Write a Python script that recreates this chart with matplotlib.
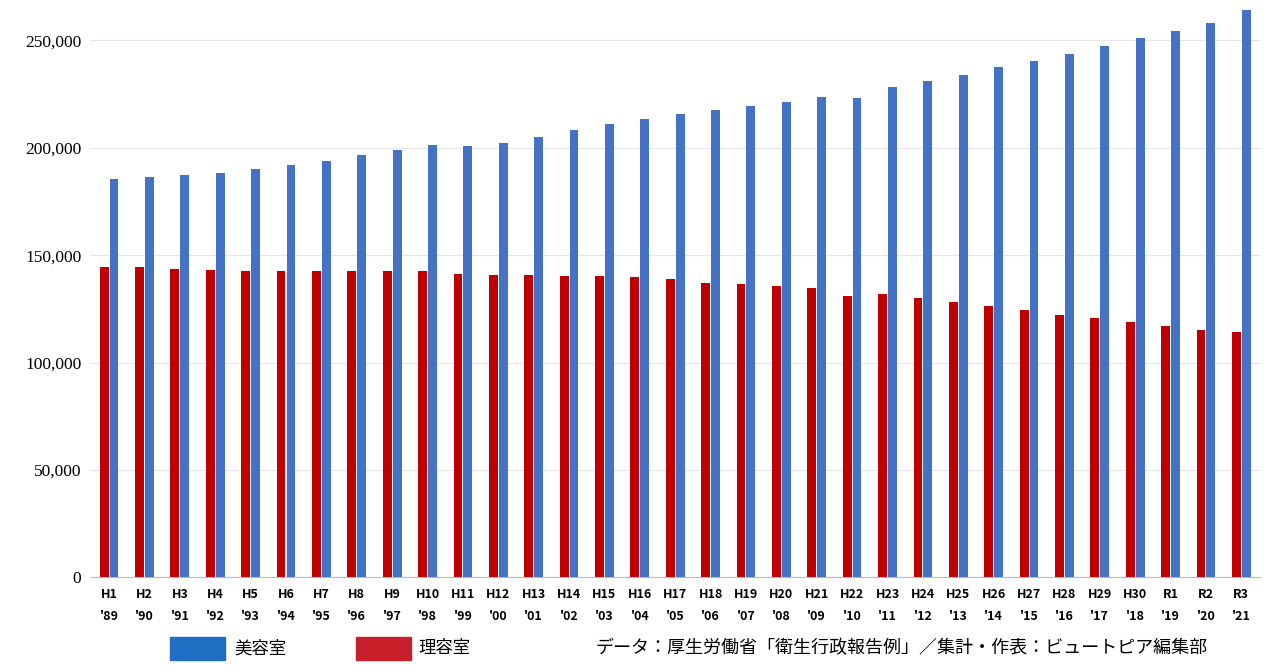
import matplotlib
matplotlib.use("Agg")
import matplotlib.pyplot as plt
import numpy as np
from matplotlib.patches import Rectangle

era = ["H1","H2","H3","H4","H5","H6","H7","H8","H9","H10","H11","H12","H13","H14","H15","H16","H17","H18","H19","H20","H21","H22","H23","H24","H25","H26","H27","H28","H29","H30","R1","R2","R3"]
years = ["'89","'90","'91","'92","'93","'94","'95","'96","'97","'98","'99","'00","'01","'02","'03","'04","'05","'06","'07","'08","'09","'10","'11","'12","'13","'14","'15","'16","'17","'18","'19","'20","'21"]
biyo = [185500,186500,187300,188400,190000,192000,193800,196500,199000,201300,200800,202400,205000,208200,210900,213200,215800,217700,219500,221400,223800,223300,228400,231100,234000,237500,240300,243500,247600,251100,254400,257900,264200]
riyo = [144600,144300,143500,143000,142600,142600,142400,142600,142800,142800,141400,140800,140600,140400,140100,139600,138800,137200,136700,135600,134600,130800,131700,130200,128100,126500,124500,122300,120900,119000,117000,115300,114400]
yticks = [0,50000,100000,150000,200000,250000]

plt.rcParams["font.family"] = ["Noto Sans CJK JP"]
fig = plt.figure(figsize=(12.8,6.72), dpi=100)
ax = fig.add_axes([0.070, 0.141, 0.915, 0.85])
x = np.arange(len(era))
w = 0.25
blue = "#4472c4"; red = "#c00000"
ax.bar(x-0.14, riyo, w, color=red, zorder=3)
ax.bar(x+0.14, biyo, w, color=blue, zorder=3)
ax.set_xlim(-0.55, len(era)-0.45)
ax.set_ylim(0, 266000)
ax.set_yticks(yticks)
ax.set_yticklabels([f"{v:,}" for v in yticks], fontfamily="Liberation Serif", fontsize=12.5)
ax.grid(axis="y", color="#e6e6e6", lw=0.8, zorder=0)
ax.set_xticks(x)
ax.set_xticklabels([f"{a}\n{b}" for a,b in zip(era,years)], fontsize=9, fontweight="bold", linespacing=1.9)
for s in ["top","right","left"]:
    ax.spines[s].set_visible(False)
ax.spines["bottom"].set_color("#bbbbbb")
ax.tick_params(length=0, pad=8)
ax.tick_params(axis="y", pad=6)

fig.patches.append(Rectangle((0.133,0.018),0.043,0.034,transform=fig.transFigure,color="#1f6fc4"))
fig.text(0.183,0.035,"美容室",fontsize=12.5,va="center")
fig.patches.append(Rectangle((0.278,0.018),0.043,0.034,transform=fig.transFigure,color="#c8202a"))
fig.text(0.327,0.035,"理容室",fontsize=12.5,va="center")
fig.text(0.465,0.035,"データ：厚生労働省「衛生行政報告例」／集計・作表：ビュートピア編集部",fontsize=13,va="center")
fig.savefig("out.png", dpi=100, facecolor="white")
